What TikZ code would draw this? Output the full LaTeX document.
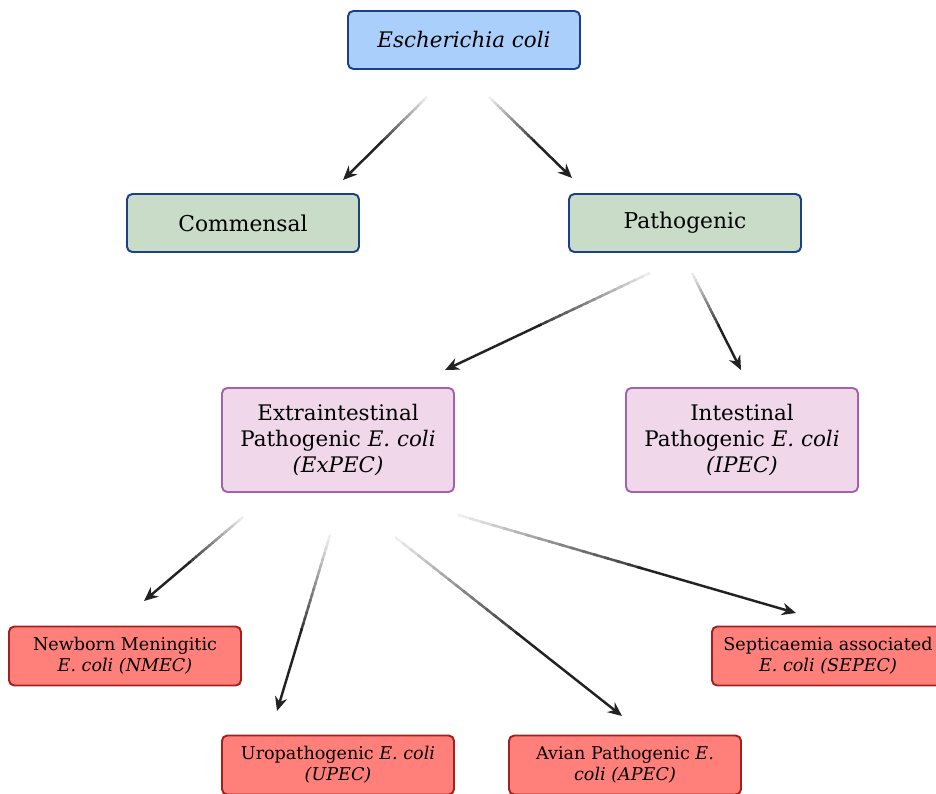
\documentclass[tikz,border=0pt]{standalone}
\usepackage{fontspec}
\setmainfont{DejaVu Serif}
\usetikzlibrary{positioning,arrows.meta,calc}
\definecolor{topfill}{HTML}{AACFFB}
\definecolor{topdraw}{HTML}{1C3F8C}
\definecolor{midfill}{HTML}{C8DCC8}
\definecolor{pinkfill}{HTML}{F0D8EA}
\definecolor{pinkdraw}{HTML}{A462AA}
\definecolor{redfill}{HTML}{FF7F7A}
\definecolor{reddraw}{HTML}{A3201E}
\definecolor{arrowcol}{HTML}{222222}

\begin{document}
\begin{tikzpicture}[
  x=0.02cm, y=-0.02cm,
  box/.style={draw,rounded corners=3pt,line width=1.1pt,align=center,
    inner sep=2pt,minimum width=232*0.02cm},
  topbox/.style={box,fill=topfill,draw=topdraw,minimum height=58*0.02cm,font=\fontsize{12.2}{14}\selectfont},
  classbox/.style={box,fill=midfill,draw=topdraw,minimum height=58*0.02cm,font=\fontsize{12.4}{14}\selectfont},
  groupbox/.style={box,fill=pinkfill,draw=pinkdraw,minimum height=104*0.02cm,font=\fontsize{12.2}{15}\selectfont},
  typebox/.style={box,fill=redfill,draw=reddraw,minimum height=59*0.02cm,font=\fontsize{10}{12}\selectfont},
  conn/.style={line width=1.4pt}
]
\useasboundingbox (0,0) rectangle (936,794);

% boxes
\node[topbox] (ecoli) at (464,40) {\textit{Escherichia coli}};
\node[classbox] (comm) at (243,223) {Commensal};
\node[classbox] (path) at (685,223) {Pathogenic};

\node[groupbox] (expec) at (338,440) {Extraintestinal\\Pathogenic \textit{E. coli}\\\textit{(ExPEC)}};
\node[groupbox] (ipec) at (742,440) {Intestinal\\Pathogenic \textit{E. coli}\\\textit{(IPEC)}};

\node[typebox] (nmec) at (125,656) {Newborn Meningitic\\\textit{E. coli (NMEC)}};
\node[typebox] (sepec) at (828,656) {Septicaemia associated\\\textit{E. coli (SEPEC)}};
\node[typebox] (upec) at (338,765) {Uropathogenic \textit{E. coli}\\\textit{(UPEC)}};
\node[typebox] (apec) at (625,765) {Avian Pathogenic \textit{E.}\\\textit{coli (APEC)}};

% arrow ends
\coordinate (ecoli-l) at (427,97);
\coordinate (ecoli-r) at (489,97);
\coordinate (comm-t) at (343,180);
\coordinate (path-t) at (572,178);
\coordinate (path-l) at (650,273);
\coordinate (path-r) at (692,273);
\coordinate (expec-t) at (445,370);
\coordinate (ipec-t) at (741,370);
\coordinate (expec-a) at (243,517);
\coordinate (expec-b) at (330,535);
\coordinate (expec-c) at (395,537);
\coordinate (expec-d) at (458,515);
\coordinate (nmec-t) at (144,601);
\coordinate (upec-t) at (277,711);
\coordinate (apec-t) at (622,716);
\coordinate (sepec-t) at (796,613);

% fading connectors
\foreach \a/\b in {ecoli-l/comm-t,ecoli-r/path-t,path-l/expec-t,path-r/ipec-t,
    expec-a/nmec-t,expec-b/upec-t,expec-c/apec-t,expec-d/sepec-t}{
  \foreach \k in {0,...,15}{
    \pgfmathsetmacro\tA{\k/30}
    \pgfmathsetmacro\tB{(\k+1.4)/30}
    \pgfmathtruncatemacro\sh{8+80*\k/15}
    \draw[conn,draw=arrowcol!\sh!white] ($(\a)!\tA!(\b)$) -- ($(\a)!\tB!(\b)$);
  }
  \draw[conn,draw=arrowcol,-{Stealth[length=8pt,width=7pt]}] ($(\a)!0.53!(\b)$) -- (\b);
}
\end{tikzpicture}
\end{document}
